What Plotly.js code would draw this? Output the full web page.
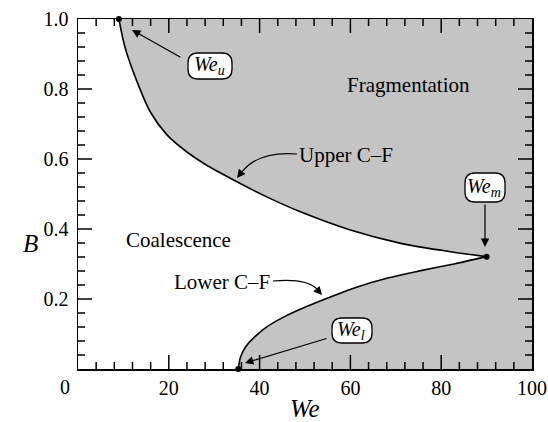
<!DOCTYPE html>
<html>
<head>
<meta charset="utf-8">
<script src="https://cdn.plot.ly/plotly-3.0.1.min.js"></script>
<style>html,body{margin:0;padding:0;background:#fff;}#chart{width:548px;height:422px;}</style>
</head>
<body>
<div id="chart"></div>
<script>
// ---- data ----
const upperWe = [9.0, 10.4, 13.0, 15.9, 19.6, 24.0, 28.0, 35.0, 41.7, 49.0, 60.0, 71.1, 82.1, 90.0];
const upperB  = [1.0, 0.917, 0.821, 0.735, 0.669, 0.620, 0.585, 0.535, 0.491, 0.449, 0.397, 0.359, 0.335, 0.321];
const lowerWe = [35.3, 35.8, 36.9, 39.1, 41.9, 45.7, 50.1, 53.9, 60.7, 68.2, 75.5, 82.8, 90.0];
const lowerB  = [0.0, 0.034, 0.063, 0.094, 0.123, 0.151, 0.177, 0.197, 0.231, 0.260, 0.281, 0.300, 0.321];
const critWe  = [9.0, 90.0, 35.3];   // We_u, We_m, We_l
const critB   = [1.0, 0.321, 0.0];
const xTickStep = 20, xMinorStep = 4;
const yTickStep = 0.2, yMinorStep = 0.04;

// ---- geometry helpers (pixel -> data) ----
const L = 78, R = 16, T = 19, B = 53, W = 548, H = 422;
const PW = W - L - R, PH = H - T - B;
const XR = [0, 100], YR = [0, 1];
const dx = px => (px - L) / PW * (XR[1] - XR[0]) + XR[0];
const dy = py => (T + PH - py) / PH * (YR[1] - YR[0]) + YR[0];
const pt = (px, py) => dx(px) + ',' + dy(py);

function roundBox(l, t, r, b, rad) {
  return 'M' + pt(l + rad, t) + ' L' + pt(r - rad, t) + ' Q' + pt(r, t) + ' ' + pt(r, t + rad) +
    ' L' + pt(r, b - rad) + ' Q' + pt(r, b) + ' ' + pt(r - rad, b) +
    ' L' + pt(l + rad, b) + ' Q' + pt(l, b) + ' ' + pt(l, b - rad) +
    ' L' + pt(l, t + rad) + ' Q' + pt(l, t) + ' ' + pt(l + rad, t) + ' Z';
}

const FONT = 'Liberation Serif, Times New Roman, serif';

// fragmentation region polygon
const fillX = upperWe.concat(lowerWe.slice(0, -1).reverse(), [100, 100]);
const fillY = upperB.concat(lowerB.slice(0, -1).reverse(), [0, 1]);

// inside tick marks on all four sides, drawn as short segments in one trace
const pxX = (XR[1] - XR[0]) / PW, pxY = (YR[1] - YR[0]) / PH;
const tx = [], ty = [];
for (let k = 1; k * xMinorStep < XR[1] - 1e-9; k++) {
  const v = k * xMinorStep;
  const len = (Math.abs(v / xTickStep - Math.round(v / xTickStep)) < 1e-6) ? 14 : 7;
  tx.push(v, v, null, v, v, null);
  ty.push(YR[0], YR[0] + len * pxY, null, YR[1], YR[1] - len * pxY, null);
}
for (let k = 1; k * yMinorStep < YR[1] - 1e-9; k++) {
  const v = k * yMinorStep;
  const len = (Math.abs(v / yTickStep - Math.round(v / yTickStep)) < 1e-6) ? 14 : 7;
  tx.push(XR[0], XR[0] + len * pxX, null, XR[1], XR[1] - len * pxX, null);
  ty.push(v, v, null, v, v, null);
}

const traces = [
  {x: fillX, y: fillY, mode: 'lines', fill: 'toself', line: {width: 0},
   fillcolor: 'rgba(0,0,0,0)',
   fillpattern: {shape: '.', size: 2, solidity: 0.5, fgcolor: '#8c8c8c', bgcolor: '#f0f0f0'},
   hoverinfo: 'skip', showlegend: false},
  {x: tx, y: ty, mode: 'lines', line: {color: '#000', width: 1.5, simplify: false}, connectgaps: false,
   showlegend: false, hoverinfo: 'skip'},
  {x: upperWe, y: upperB, mode: 'lines', line: {color: '#000', width: 1.6, shape: 'spline', smoothing: 0.8}, showlegend: false},
  {x: lowerWe, y: lowerB, mode: 'lines', line: {color: '#000', width: 1.6, shape: 'spline', smoothing: 0.8}, showlegend: false},
  {x: critWe, y: critB, mode: 'markers', marker: {color: '#000', size: 6}, cliponaxis: false, showlegend: false}
];

const shapes = [
  {type: 'path', xref: 'x', yref: 'y', path: roundBox(188, 53, 232, 79, 10), fillcolor: '#fff', line: {color: '#000', width: 1.3}, layer: 'above'},
  {type: 'path', xref: 'x', yref: 'y', path: roundBox(465, 173, 505, 202, 10), fillcolor: '#fff', line: {color: '#000', width: 1.3}, layer: 'above'},
  {type: 'path', xref: 'x', yref: 'y', path: roundBox(332, 318, 372, 343, 10), fillcolor: '#fff', line: {color: '#000', width: 1.3}, layer: 'above'},
  {type: 'path', xref: 'x', yref: 'y', path: 'M' + pt(297, 154) + ' Q' + pt(258, 151) + ' ' + pt(242, 172), line: {color: '#000', width: 1.2}, layer: 'above'},
  {type: 'path', xref: 'x', yref: 'y', path: 'M' + pt(273, 281) + ' Q' + pt(306, 278) + ' ' + pt(317, 289), line: {color: '#000', width: 1.2}, layer: 'above'}
];

function arrow(tipX, tipY, tailX, tailY) {
  return {x: dx(tipX), y: dy(tipY), xref: 'x', yref: 'y', ax: tailX - tipX, ay: tailY - tipY,
    text: '', showarrow: true, arrowhead: 2, arrowsize: 1.4, arrowwidth: 1.2, arrowcolor: '#000'};
}
function label(px, py, text, size) {
  return {x: dx(px), y: dy(py), xref: 'x', yref: 'y', text: text, showarrow: false,
    xanchor: 'center', yanchor: 'middle', font: {family: FONT, size: size, color: '#000'}};
}
function plabel(px, py, text, size) {
  return {x: (px - L) / PW, y: (T + PH - py) / PH, xref: 'paper', yref: 'paper', text: text, showarrow: false,
    xanchor: 'center', yanchor: 'middle', font: {family: FONT, size: size, color: '#000'}};
}

const annotations = [
  label(408, 85, 'Fragmentation', 21),
  label(178, 240, 'Coalescence', 21),
  label(346, 155, 'Upper C–F', 21),
  label(222, 282, 'Lower C–F', 21),
  label(209, 65, '<i>We<sub>u</sub></i>', 20),
  label(484, 187, '<i>We<sub>m</sub></i>', 20),
  label(351, 330, '<i>We<sub>l</sub></i>', 20),
  arrow(132, 30, 182, 58),
  arrow(485, 247, 485, 203),
  arrow(245, 363, 328, 338),
  arrow(237, 178, 244, 169),
  arrow(322, 295, 315, 287),
  plabel(65, 387, '0', 20),
  plabel(30, 243, '<i>B</i>', 25),
  plabel(305, 408, '<i>We</i>', 25)
];

const axisCommon = {
  ticks: '', showgrid: false, zeroline: false, tickmode: 'linear', tick0: 0,
  showline: true, linecolor: '#000', linewidth: 1.5, mirror: true,
  tickfont: {family: FONT, size: 20, color: '#000'}
};

const layout = {
  width: W, height: H,
  margin: {l: L, r: R, t: T, b: B, pad: 0},
  paper_bgcolor: '#fff', plot_bgcolor: '#fff',
  showlegend: false, hovermode: false,
  xaxis: Object.assign({}, axisCommon, {range: XR, dtick: xTickStep, labelalias: {'0': ' '}}),
  yaxis: Object.assign({}, axisCommon, {range: YR, dtick: yTickStep, tickformat: '.1f', labelalias: {'0.0': ' '},
    ticklabelstandoff: 4}),
  shapes: shapes,
  annotations: annotations
};

Plotly.newPlot('chart', traces, layout, {staticPlot: true, displayModeBar: false});
</script>
</body>
</html>
